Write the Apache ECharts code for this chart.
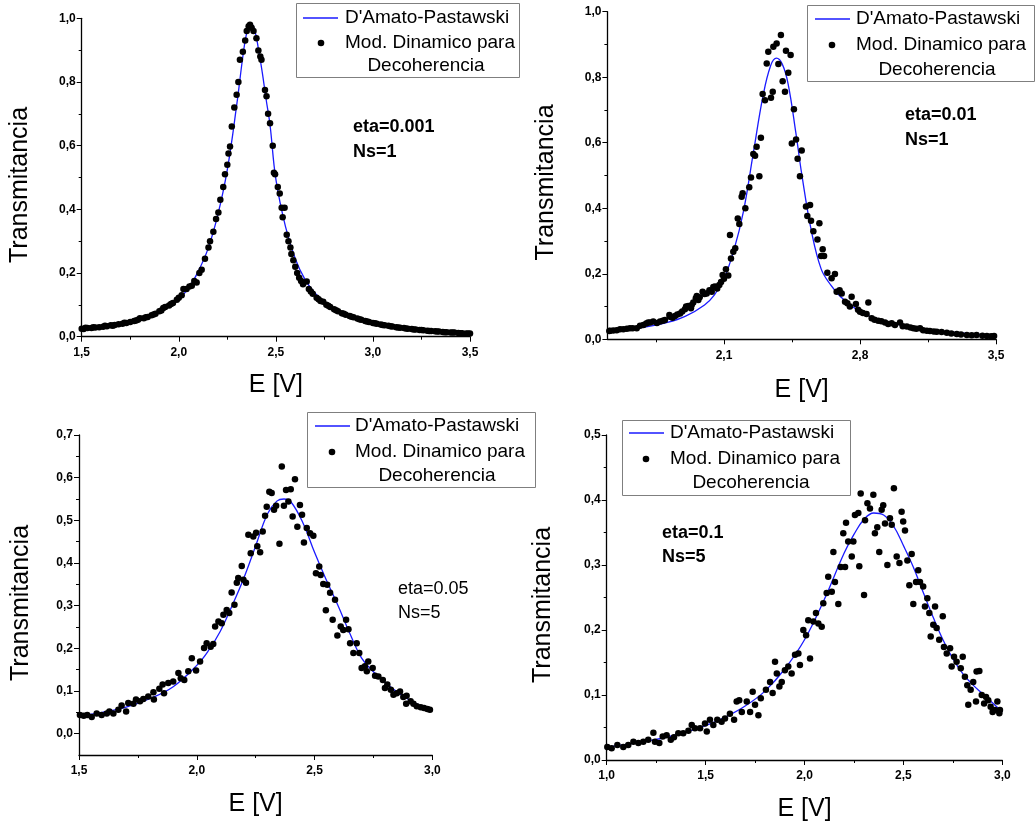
<!DOCTYPE html>
<html><head><meta charset="utf-8">
<script src="https://cdn.jsdelivr.net/npm/echarts@6/dist/echarts.min.js"></script>
<style>html,body{margin:0;padding:0;background:#fff}#c{width:1035px;height:826px}</style>
</head><body><div id="c"></div><script>
// ---------- data ----------
const seriesNames = ["D'Amato-Pastawski", "Mod. Dinamico para Decoherencia"];
const legendLabels = ["D'Amato-Pastawski", "Mod. Dinamico para", "Decoherencia"];
const annotations = [["eta=0.001","Ns=1"],["eta=0.01","Ns=1"],["eta=0.05","Ns=5"],["eta=0.1","Ns=5"]];
const xTitle = "E [V]";
const yTitle = "Transmitancia";

// panel 1 : eta=0.001 Ns=1
const p1Curve = [[1.5,0.024],[1.6,0.031],[1.7,0.040],[1.8,0.056],[1.9,0.080],[2.0,0.120],[2.05,0.152],[2.1,0.205],[2.15,0.275],[2.2,0.380],[2.25,0.525],[2.3,0.735],[2.33,0.880],[2.35,0.955],[2.37,0.985],[2.39,0.965],[2.41,0.905],[2.43,0.830],[2.45,0.745],[2.47,0.665],[2.5,0.495],[2.55,0.345],[2.6,0.245],[2.65,0.180],[2.7,0.138],[2.75,0.108],[2.8,0.087],[2.9,0.062],[3.0,0.044],[3.1,0.032],[3.2,0.024],[3.3,0.018],[3.4,0.013],[3.5,0.010]];
const p1Points = [[1.50,0.025],[1.51,0.024],[1.52,0.028],[1.53,0.027],[1.55,0.027],[1.56,0.030],[1.57,0.029],[1.59,0.030],[1.61,0.031],[1.62,0.034],[1.63,0.033],[1.65,0.036],[1.66,0.034],[1.67,0.037],[1.69,0.039],[1.71,0.041],[1.72,0.044],[1.73,0.043],[1.75,0.046],[1.77,0.049],[1.78,0.051],[1.79,0.053],[1.80,0.058],[1.82,0.058],[1.83,0.061],[1.84,0.062],[1.86,0.067],[1.87,0.070],[1.88,0.072],[1.90,0.080],[1.91,0.082],[1.92,0.090],[1.93,0.093],[1.95,0.098],[1.96,0.103],[1.97,0.106],[1.99,0.116],[2.00,0.122],[2.015,0.130],[2.024,0.150],[2.04,0.150],[2.055,0.158],[2.067,0.160],[2.08,0.175],[2.092,0.170],[2.106,0.200],[2.118,0.210],[2.135,0.245],[2.153,0.280],[2.161,0.300],[2.178,0.330],[2.192,0.370],[2.204,0.390],[2.214,0.430],[2.229,0.470],[2.238,0.510],[2.25,0.540],[2.256,0.575],[2.264,0.597],[2.273,0.660],[2.286,0.720],[2.298,0.760],[2.307,0.800],[2.315,0.870],[2.33,0.895],[2.342,0.930],[2.35,0.960],[2.36,0.975],[2.367,0.980],[2.375,0.970],[2.385,0.960],[2.40,0.937],[2.41,0.899],[2.42,0.880],[2.426,0.870],[2.444,0.775],[2.452,0.755],[2.46,0.700],[2.47,0.670],[2.484,0.600],[2.49,0.515],[2.496,0.510],[2.51,0.470],[2.52,0.450],[2.53,0.405],[2.545,0.405],[2.535,0.375],[2.556,0.320],[2.565,0.300],[2.575,0.280],[2.58,0.260],[2.59,0.240],[2.60,0.220],[2.61,0.200],[2.62,0.185],[2.63,0.175],[2.64,0.165],[2.659,0.173],[2.67,0.150],[2.68,0.142],[2.69,0.135],[2.71,0.122],[2.72,0.118],[2.73,0.112],[2.744,0.110],[2.76,0.100],[2.77,0.097],[2.78,0.093],[2.80,0.086],[2.81,0.083],[2.82,0.080],[2.84,0.074],[2.85,0.072],[2.86,0.069],[2.88,0.065],[2.89,0.063],[2.90,0.061],[2.92,0.057],[2.93,0.055],[2.94,0.053],[2.96,0.049],[2.97,0.048],[2.98,0.046],[3.00,0.043],[3.01,0.042],[3.02,0.041],[3.04,0.038],[3.05,0.037],[3.06,0.036],[3.08,0.034],[3.09,0.033],[3.10,0.032],[3.12,0.030],[3.13,0.029],[3.14,0.028],[3.16,0.027],[3.17,0.026],[3.18,0.025],[3.20,0.024],[3.21,0.023],[3.22,0.023],[3.24,0.021],[3.25,0.021],[3.26,0.020],[3.28,0.019],[3.29,0.018],[3.30,0.018],[3.32,0.017],[3.33,0.016],[3.34,0.016],[3.36,0.015],[3.37,0.014],[3.38,0.014],[3.40,0.013],[3.41,0.013],[3.42,0.013],[3.44,0.012],[3.45,0.011],[3.46,0.011],[3.48,0.010],[3.49,0.010],[3.50,0.010]];

// panel 2 : eta=0.01 Ns=1
const p2Curve = [[1.5,0.025],[1.6,0.030],[1.7,0.038],[1.8,0.050],[1.9,0.070],[2.0,0.105],[2.05,0.135],[2.1,0.185],[2.15,0.270],[2.2,0.390],[2.25,0.565],[2.3,0.740],[2.34,0.835],[2.37,0.858],[2.4,0.840],[2.43,0.780],[2.47,0.630],[2.5,0.505],[2.55,0.330],[2.6,0.215],[2.65,0.165],[2.7,0.130],[2.8,0.085],[2.9,0.060],[3.0,0.045],[3.1,0.034],[3.2,0.026],[3.3,0.020],[3.4,0.015],[3.5,0.012]];
const p2Points = [[1.51,0.025],[1.513,0.026],[1.53,0.027],[1.548,0.028],[1.565,0.031],[1.582,0.031],[1.60,0.032],[1.616,0.034],[1.63,0.034],[1.651,0.034],[1.668,0.041],[1.685,0.044],[1.70,0.048],[1.71,0.051],[1.72,0.051],[1.736,0.054],[1.755,0.050],[1.771,0.054],[1.785,0.057],[1.796,0.059],[1.819,0.074],[1.822,0.069],[1.835,0.066],[1.848,0.071],[1.86,0.076],[1.874,0.079],[1.885,0.085],[1.899,0.092],[1.905,0.100],[1.916,0.102],[1.93,0.095],[1.934,0.105],[1.942,0.112],[1.955,0.125],[1.96,0.132],[1.968,0.120],[1.975,0.128],[1.99,0.145],[2.00,0.138],[2.011,0.140],[2.025,0.150],[2.037,0.145],[2.045,0.160],[2.054,0.161],[2.065,0.155],[2.076,0.166],[2.085,0.175],[2.093,0.196],[2.10,0.185],[2.11,0.214],[2.122,0.195],[2.131,0.318],[2.136,0.247],[2.148,0.267],[2.158,0.278],[2.171,0.369],[2.179,0.352],[2.191,0.435],[2.196,0.446],[2.21,0.400],[2.23,0.464],[2.239,0.494],[2.251,0.566],[2.26,0.560],[2.268,0.588],[2.282,0.498],[2.29,0.615],[2.299,0.749],[2.311,0.730],[2.32,0.842],[2.328,0.878],[2.342,0.737],[2.351,0.756],[2.354,0.893],[2.371,0.903],[2.38,0.840],[2.393,0.929],[2.402,0.788],[2.414,0.756],[2.419,0.881],[2.431,0.814],[2.443,0.868],[2.449,0.598],[2.46,0.702],[2.471,0.610],[2.479,0.551],[2.491,0.498],[2.50,0.576],[2.522,0.405],[2.529,0.376],[2.543,0.410],[2.548,0.362],[2.56,0.330],[2.581,0.305],[2.591,0.354],[2.60,0.254],[2.608,0.275],[2.615,0.254],[2.632,0.203],[2.654,0.186],[2.671,0.199],[2.68,0.145],[2.695,0.150],[2.706,0.140],[2.723,0.115],[2.735,0.110],[2.748,0.100],[2.757,0.130],[2.779,0.108],[2.79,0.090],[2.80,0.084],[2.815,0.080],[2.834,0.077],[2.843,0.112],[2.86,0.064],[2.875,0.060],[2.894,0.057],[2.91,0.055],[2.929,0.051],[2.945,0.047],[2.963,0.049],[2.98,0.044],[3.006,0.051],[3.02,0.040],[3.041,0.039],[3.06,0.036],[3.075,0.034],[3.09,0.032],[3.109,0.034],[3.125,0.028],[3.144,0.026],[3.16,0.025],[3.18,0.024],[3.195,0.023],[3.22,0.022],[3.247,0.020],[3.27,0.018],[3.298,0.016],[3.32,0.015],[3.35,0.013],[3.375,0.012],[3.40,0.013],[3.43,0.011],[3.453,0.010],[3.475,0.009],[3.49,0.010]];

// panel 3 : eta=0.05 Ns=5
const p3Curve = [[1.5,0.042],[1.6,0.050],[1.7,0.062],[1.8,0.082],[1.9,0.110],[2.0,0.160],[2.05,0.195],[2.1,0.240],[2.15,0.300],[2.2,0.365],[2.25,0.440],[2.3,0.515],[2.34,0.545],[2.37,0.550],[2.4,0.543],[2.45,0.495],[2.5,0.425],[2.55,0.360],[2.6,0.300],[2.65,0.235],[2.7,0.177],[2.75,0.145],[2.8,0.120],[2.85,0.098],[2.9,0.080],[2.95,0.066],[2.99,0.058]];
const p3Points = [[1.504,0.044],[1.52,0.042],[1.535,0.044],[1.554,0.039],[1.575,0.047],[1.596,0.044],[1.618,0.047],[1.629,0.052],[1.646,0.047],[1.667,0.056],[1.681,0.066],[1.70,0.052],[1.709,0.072],[1.731,0.070],[1.742,0.080],[1.759,0.076],[1.773,0.081],[1.794,0.087],[1.816,0.097],[1.818,0.080],[1.841,0.105],[1.855,0.115],[1.861,0.095],[1.879,0.119],[1.90,0.122],[1.922,0.142],[1.932,0.130],[1.947,0.126],[1.964,0.146],[1.979,0.177],[1.997,0.148],[2.014,0.169],[2.031,0.201],[2.042,0.212],[2.059,0.204],[2.07,0.210],[2.078,0.251],[2.092,0.263],[2.106,0.259],[2.113,0.279],[2.127,0.290],[2.138,0.283],[2.148,0.331],[2.16,0.302],[2.17,0.354],[2.176,0.365],[2.191,0.393],[2.198,0.361],[2.209,0.354],[2.219,0.466],[2.229,0.423],[2.24,0.462],[2.252,0.471],[2.257,0.439],[2.269,0.425],[2.28,0.474],[2.29,0.511],[2.297,0.532],[2.308,0.567],[2.318,0.564],[2.328,0.525],[2.337,0.534],[2.351,0.445],[2.361,0.626],[2.37,0.534],[2.379,0.571],[2.389,0.544],[2.399,0.573],[2.407,0.509],[2.417,0.596],[2.427,0.485],[2.438,0.536],[2.447,0.513],[2.455,0.448],[2.467,0.482],[2.481,0.470],[2.495,0.464],[2.506,0.376],[2.52,0.392],[2.526,0.372],[2.537,0.351],[2.548,0.289],[2.554,0.349],[2.566,0.330],[2.577,0.267],[2.587,0.314],[2.597,0.230],[2.611,0.251],[2.622,0.243],[2.634,0.267],[2.644,0.245],[2.651,0.212],[2.665,0.189],[2.679,0.212],[2.69,0.189],[2.70,0.154],[2.714,0.158],[2.722,0.146],[2.728,0.169],[2.747,0.154],[2.757,0.136],[2.771,0.134],[2.79,0.126],[2.799,0.107],[2.809,0.115],[2.824,0.103],[2.835,0.091],[2.849,0.095],[2.863,0.099],[2.877,0.086],[2.889,0.070],[2.891,0.089],[2.908,0.076],[2.92,0.070],[2.934,0.064],[2.951,0.062],[2.965,0.060],[2.979,0.058],[2.99,0.056]];

// panel 4 : eta=0.1 Ns=5
const p4Curve = [[1.0,0.020],[1.1,0.024],[1.2,0.029],[1.3,0.035],[1.4,0.043],[1.5,0.053],[1.6,0.066],[1.7,0.083],[1.8,0.106],[1.9,0.140],[2.0,0.185],[2.1,0.247],[2.2,0.318],[2.25,0.347],[2.3,0.370],[2.35,0.380],[2.4,0.377],[2.45,0.360],[2.5,0.330],[2.55,0.297],[2.6,0.258],[2.65,0.220],[2.7,0.185],[2.75,0.156],[2.8,0.133],[2.85,0.116],[2.9,0.102],[2.95,0.088],[3.0,0.074]];
const p4Points = [[1.003,0.020],[1.025,0.018],[1.054,0.023],[1.084,0.020],[1.109,0.023],[1.135,0.028],[1.16,0.026],[1.185,0.028],[1.21,0.031],[1.236,0.042],[1.244,0.028],[1.266,0.026],[1.283,0.036],[1.303,0.038],[1.324,0.031],[1.34,0.035],[1.362,0.041],[1.387,0.041],[1.413,0.045],[1.43,0.054],[1.446,0.049],[1.472,0.049],[1.497,0.056],[1.506,0.044],[1.522,0.062],[1.539,0.054],[1.559,0.062],[1.581,0.059],[1.598,0.064],[1.623,0.071],[1.644,0.062],[1.657,0.090],[1.67,0.092],[1.683,0.074],[1.708,0.090],[1.725,0.074],[1.738,0.105],[1.75,0.085],[1.767,0.069],[1.779,0.095],[1.805,0.108],[1.826,0.120],[1.839,0.103],[1.851,0.151],[1.86,0.133],[1.873,0.113],[1.885,0.120],[1.901,0.138],[1.918,0.144],[1.935,0.133],[1.952,0.162],[1.969,0.164],[1.977,0.146],[1.994,0.200],[2.008,0.192],[2.019,0.215],[2.028,0.156],[2.045,0.213],[2.058,0.226],[2.07,0.210],[2.087,0.205],[2.095,0.241],[2.112,0.257],[2.12,0.282],[2.138,0.259],[2.146,0.320],[2.154,0.274],[2.171,0.240],[2.183,0.297],[2.196,0.349],[2.205,0.297],[2.21,0.365],[2.221,0.336],[2.239,0.313],[2.247,0.336],[2.255,0.377],[2.272,0.380],[2.277,0.298],[2.284,0.410],[2.301,0.254],[2.306,0.369],[2.318,0.395],[2.331,0.387],[2.348,0.408],[2.356,0.349],[2.368,0.358],[2.378,0.320],[2.39,0.385],[2.398,0.392],[2.407,0.364],[2.419,0.300],[2.432,0.372],[2.441,0.362],[2.452,0.418],[2.466,0.313],[2.48,0.303],[2.491,0.382],[2.499,0.367],[2.508,0.353],[2.52,0.307],[2.53,0.269],[2.542,0.317],[2.55,0.240],[2.564,0.274],[2.575,0.292],[2.584,0.274],[2.60,0.267],[2.609,0.236],[2.621,0.249],[2.631,0.226],[2.638,0.190],[2.651,0.208],[2.66,0.236],[2.668,0.203],[2.681,0.185],[2.699,0.221],[2.705,0.174],[2.719,0.164],[2.736,0.172],[2.744,0.144],[2.756,0.159],[2.769,0.151],[2.79,0.141],[2.80,0.159],[2.811,0.128],[2.823,0.115],[2.828,0.085],[2.84,0.108],[2.853,0.120],[2.867,0.090],[2.87,0.136],[2.884,0.137],[2.896,0.100],[2.908,0.087],[2.918,0.097],[2.929,0.092],[2.941,0.082],[2.951,0.074],[2.963,0.077],[2.975,0.090],[2.985,0.072],[2.988,0.077]];

// tick values
const p2XLabels = [2.1, 2.8, 3.5];
const p2XMinor = [1.75, 2.45, 3.15];
const p3YLabels = [0, 0.1, 0.2, 0.3, 0.4, 0.5, 0.6, 0.7];
const p3YMinor = [0.05, 0.15, 0.25, 0.35, 0.45, 0.55, 0.65];

// ---------- chart ----------
const FONT = '"Liberation Sans", Arial, sans-serif';
const fmt = v => (Math.round(v * 10) / 10).toFixed(1).replace('.', ',');
const axisLine = {show: true, onZero: false, lineStyle: {color: '#000', width: 1.3}};
const majorTick = {show: true, length: 5, lineStyle: {color: '#000', width: 1}};
const minorTick = {show: true, splitNumber: 2, length: 3, lineStyle: {color: '#000', width: 1}};
const label = {color: '#000', fontSize: 12, fontWeight: 'bold', fontFamily: FONT, formatter: fmt};
const nameStyle = {color: '#000', fontSize: 25, fontFamily: FONT};

function xAx(grid, min, max, interval, extra) {
  return Object.assign({
    type: 'value', gridIndex: grid, position: 'bottom', min: min, max: max, interval: interval,
    axisLine: axisLine, axisTick: majorTick, minorTick: minorTick, splitLine: {show: false},
    axisLabel: Object.assign({}, label, {margin: 10}),
    name: xTitle, nameLocation: 'middle', nameGap: 36, nameTextStyle: nameStyle
  }, extra || {});
}
function yAx(grid, min, max, interval, extra) {
  return Object.assign({
    type: 'value', gridIndex: grid, position: 'left', min: min, max: max, interval: interval,
    axisLine: axisLine, axisTick: majorTick, minorTick: minorTick, splitLine: {show: false},
    axisLabel: Object.assign({}, label, {margin: 6}),
    name: yTitle, nameLocation: 'middle', nameGap: 48,
    nameTextStyle: Object.assign({}, nameStyle, {padding: [0, 0, 0, 0]})
  }, extra || {});
}

const grids = [
  {left: 81.7, top: 18.3, width: 388.3, height: 318.4},
  {left: 607.4, top: 11.7, width: 388.6, height: 327.6},
  {left: 79, top: 435, width: 353.3, height: 320},
  {left: 606.7, top: 435, width: 395.6, height: 325}
].map(g => Object.assign({outerBoundsMode: 'none', containLabel: false}, g));

const xAxes = [
  xAx(0, 1.5, 3.5, 0.5),
  xAx(1, 1.5, 3.5, null, {
    interval: undefined, minorTick: {show: false},
    axisLabel: Object.assign({}, label, {margin: 10, customValues: p2XLabels}),
    axisTick: Object.assign({}, majorTick, {customValues: p2XLabels}), nameGap: 38
  }),
  {type: 'value', gridIndex: 1, position: 'bottom', offset: 0, min: 1.5, max: 3.5,
   axisLine: {show: false, onZero: false}, splitLine: {show: false}, axisLabel: {show: false},
   axisTick: {show: true, length: 3, lineStyle: {color: '#000', width: 1}, customValues: p2XMinor}},
  xAx(2, 1.5, 3.0, 0.5, {nameGap: 37}),
  xAx(3, 1.0, 3.0, 0.5, {nameGap: 37})
];
const yAxes = [
  yAx(0, 0, 1.0, 0.2, {nameGap: 49, nameTextStyle: Object.assign({}, nameStyle, {padding: [0, 15, 0, 0]})}),
  yAx(1, 0, 1.0, 0.2, {nameGap: 49, nameTextStyle: Object.assign({}, nameStyle, {padding: [0, 14, 0, 0]})}),
  yAx(2, -0.05, 0.7, null, {
    interval: undefined, minorTick: {show: false},
    axisLabel: Object.assign({}, label, {margin: 6, customValues: p3YLabels}),
    axisTick: Object.assign({}, majorTick, {customValues: p3YLabels}), nameGap: 45,
    nameTextStyle: Object.assign({}, nameStyle, {padding: [0, 16, 0, 0]})
  }),
  {type: 'value', gridIndex: 2, position: 'left', offset: 0, min: -0.05, max: 0.7,
   axisLine: {show: false, onZero: false}, splitLine: {show: false}, axisLabel: {show: false},
   axisTick: {show: true, length: 3, lineStyle: {color: '#000', width: 1}, customValues: p3YMinor}},
  yAx(3, 0, 0.5, 0.1, {nameGap: 51, nameTextStyle: Object.assign({}, nameStyle, {padding: [0, 15, 0, 0]})})
];

function pair(xi, yi, curve, pts) {
  return [
    {type: 'line', name: seriesNames[0], xAxisIndex: xi, yAxisIndex: yi, data: curve, showSymbol: false,
     smooth: 0.4, lineStyle: {color: '#1a1aff', width: 1.3}, z: 2, silent: true, animation: false},
    {type: 'scatter', name: seriesNames[1], xAxisIndex: xi, yAxisIndex: yi, data: pts, symbolSize: 6.5,
     itemStyle: {color: '#000', opacity: 1}, z: 3, silent: true, animation: false}
  ];
}
const series = [].concat(
  pair(0, 0, p1Curve, p1Points),
  pair(1, 1, p2Curve, p2Points),
  pair(3, 2, p3Curve, p3Points),
  pair(4, 4, p4Curve, p4Points)
);

// legend boxes + annotations (layout only)
const legendGeo = [
  {bx: 296, by: 3, bw: 223, bh: 74, lx: 303, dx: 321, tx: 345, rows: [18, 43, 66], dc: 426},
  {bx: 807, by: 5, bw: 227, bh: 76, lx: 815, dx: 832, tx: 856, rows: [19, 45, 70], dc: 937},
  {bx: 307, by: 412, bw: 228, bh: 75, lx: 315, dx: 332, tx: 355, rows: [426, 452, 476], dc: 437},
  {bx: 622, by: 420, bw: 228, bh: 75, lx: 629, dx: 646, tx: 670, rows: [433, 459, 483], dc: 751}
];
const annGeo = [
  {x: 353, rows: [127, 152], bold: true},
  {x: 905, rows: [115, 140], bold: true},
  {x: 398, rows: [589, 613], bold: false},
  {x: 662, rows: [533, 557], bold: true}
];
const graphic = [];
legendGeo.forEach(g => {
  graphic.push({type: 'rect', z: 50, shape: {x: g.bx + 0.5, y: g.by + 0.5, width: g.bw, height: g.bh},
    style: {fill: '#fff', stroke: '#7f7f7f', lineWidth: 1}});
  graphic.push({type: 'line', z: 51, shape: {x1: g.lx, y1: g.rows[0], x2: g.lx + 35, y2: g.rows[0]},
    style: {stroke: '#1a1aff', lineWidth: 1.4}});
  graphic.push({type: 'circle', z: 51, shape: {cx: g.dx, cy: g.rows[1], r: 3.3}, style: {fill: '#000'}});
  graphic.push({type: 'text', z: 51, style: {text: legendLabels[0], x: g.tx, y: g.rows[0], verticalAlign: 'middle', fill: '#000', font: '19px ' + FONT}});
  graphic.push({type: 'text', z: 51, style: {text: legendLabels[1], x: g.tx, y: g.rows[1], verticalAlign: 'middle', fill: '#000', font: '19px ' + FONT}});
  graphic.push({type: 'text', z: 51, style: {text: legendLabels[2], x: g.dc, y: g.rows[2], align: 'center', verticalAlign: 'middle', fill: '#000', font: '19px ' + FONT}});
});
annGeo.forEach((a, i) => {
  a.rows.forEach((ry, k) => {
    graphic.push({type: 'text', z: 51, style: {text: annotations[i][k], x: a.x, y: ry, verticalAlign: 'middle', fill: '#000',
      font: (a.bold ? 'bold ' : '') + '18px ' + FONT}});
  });
});

const chart = echarts.init(document.getElementById('c'), null, {renderer: 'canvas'});
chart.setOption({
  animation: false,
  backgroundColor: '#fff',
  grid: grids,
  xAxis: xAxes,
  yAxis: yAxes,
  series: series,
  graphic: graphic
});
</script></body></html>
